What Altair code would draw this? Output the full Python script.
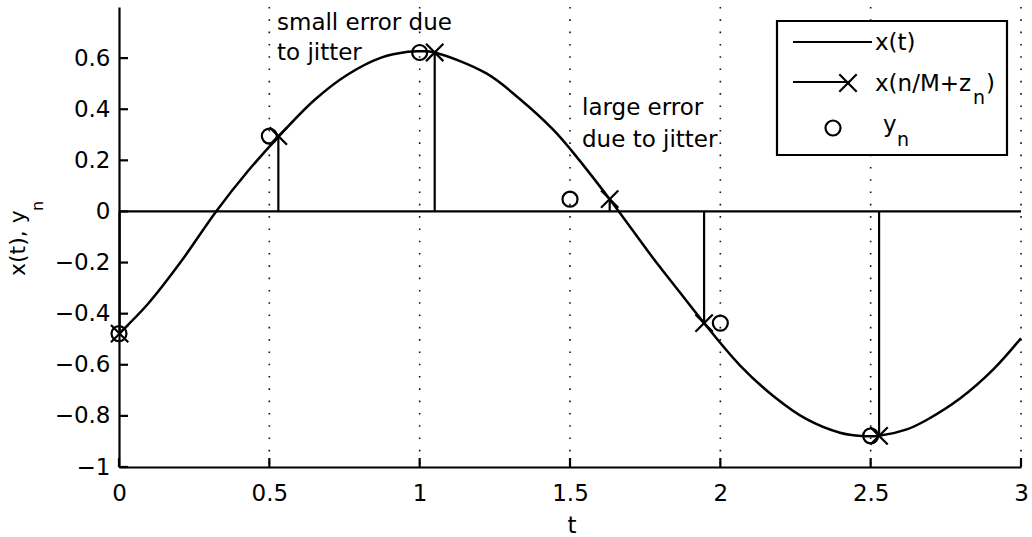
import altair as alt
import pandas as pd

# x(t) traced over 0 <= t <= 3
curve_t = [0.0, 0.096, 0.207, 0.323, 0.429, 0.530, 0.651, 0.761, 0.872, 0.961,
           1.005, 1.050, 1.222, 1.333, 1.444, 1.505, 1.632, 1.776, 1.843,
           1.946, 2.065, 2.176, 2.287, 2.398, 2.470, 2.528, 2.620, 2.686, 2.797,
           2.908, 3.0]
curve_x = [-0.478, -0.362, -0.195, 0.0, 0.158, 0.292, 0.437, 0.536, 0.602, 0.625,
           0.627, 0.622, 0.540, 0.440, 0.320, 0.238, 0.048, -0.182, -0.283,
           -0.437, -0.602, -0.722, -0.813, -0.866, -0.879, -0.878, -0.853, -0.816, -0.732,
           -0.618, -0.496]

# nominal sample instants n/M, jittered instants n/M + z_n, and sampled values
n_t = [0.0, 0.5, 1.0, 1.5, 2.0, 2.5]
jitter_t = [0.002, 0.530, 1.050, 1.632, 1.946, 2.528]
samples = [-0.478, 0.295, 0.622, 0.048, -0.437, -0.878]

x_ticks = [0, 0.5, 1, 1.5, 2, 2.5, 3]
y_ticks = [-1, -0.8, -0.6, -0.4, -0.2, 0, 0.2, 0.4, 0.6]

FONT = "DejaVu Sans"
W, H = 902, 460
LW = 2.2

curve_df = pd.DataFrame({"t": curve_t, "v": curve_x})
samp_df = pd.DataFrame({"n": n_t, "t": jitter_t, "v": samples, "zero": [0.0] * len(n_t)})
grid_df = pd.DataFrame({"t": x_ticks[1:]})
xt_df = pd.DataFrame({"t": x_ticks})
yt_df = pd.DataFrame({"v": y_ticks})
base_df = pd.DataFrame({"t": [x_ticks[0]], "t2": [x_ticks[-1]], "v": [0.0]})

xs = alt.Scale(domain=[0, 3], nice=False, zero=False)
ys = alt.Scale(domain=[-1, 0.8], nice=False, zero=False)
x_axis = alt.Axis(values=x_ticks, format="~g", title=None, grid=False, ticks=False,
                  domainColor="black", domainWidth=LW, labelFont=FONT, labelFontSize=23,
                  labelColor="black", labelPadding=15, labelFlush=False, labelOverlap=False)
y_axis = alt.Axis(values=y_ticks, format="~g", title=None, grid=False, ticks=False,
                  domainColor="black", domainWidth=LW, labelFont=FONT, labelFontSize=23,
                  labelColor="black", labelPadding=9, labelFlush=False, labelOverlap=False)


def X(field):
    return alt.X(field, type="quantitative", scale=xs, axis=x_axis)


def Y(field):
    return alt.Y(field, type="quantitative", scale=ys, axis=y_axis)


# dotted vertical grid at the t ticks
grid = alt.Chart(grid_df).mark_rule(color="#111", strokeWidth=1.6, strokeDash=[1.6, 10.7]).encode(
    x=X("t"), y=alt.value(0), y2=alt.value(H))

# inward tick marks
xtick = alt.Chart(xt_df).mark_rule(color="black", strokeWidth=LW).encode(
    x=X("t"), y=alt.value(H), y2=alt.value(H - 9))
ytick = alt.Chart(yt_df).mark_rule(color="black", strokeWidth=LW).encode(
    y=Y("v"), x=alt.value(0), x2=alt.value(9))

# stem baseline at zero
baseline = alt.Chart(base_df).mark_rule(color="black", strokeWidth=LW).encode(
    x=X("t"), x2="t2", y=Y("v"))

stems = alt.Chart(samp_df).mark_rule(color="black", strokeWidth=LW).encode(
    x=X("t"), y=Y("zero"), y2="v")

curve = alt.Chart(curve_df).mark_line(color="black", strokeWidth=2.5,
                                      interpolate="catmull-rom").encode(x=X("t"), y=Y("v"))

XSHAPE = "M-1,-1L1,1M1,-1L-1,1"
crosses = alt.Chart(samp_df).mark_point(shape=XSHAPE, size=300, filled=False, color="black",
                                        strokeWidth=LW, opacity=1).encode(x=X("t"), y=Y("v"))
circles = alt.Chart(samp_df).mark_point(shape="circle", size=225, filled=False, color="black",
                                        strokeWidth=LW, opacity=1).encode(x=X("n"), y=Y("v"))

one = alt.Data(values=[{"k": 1}])


def label(text, x, y, size=23, align="left", angle=0):
    return alt.Chart(one).mark_text(text=text, font=FONT, fontSize=size, color="black",
                                    align=align, baseline="alphabetic", angle=angle).encode(
        x=alt.value(x), y=alt.value(y))


def seg(x1, x2, y):
    return alt.Chart(one).mark_rule(color="black", strokeWidth=LW).encode(
        x=alt.value(x1), x2=alt.value(x2), y=alt.value(y))


notes = [
    label("small error due", 158, 23),
    label("to jitter", 158, 53),
    label("large error", 463, 108),
    label("due to jitter", 463, 140),
]

legend_box = alt.Chart(one).mark_rect(fill="white", stroke="black", strokeWidth=LW).encode(
    x=alt.value(658), x2=alt.value(888), y=alt.value(14), y2=alt.value(148))
legend = [
    legend_box,
    seg(674, 753, 35),
    label("x(t)", 756, 43),
    seg(674, 731, 75),
    alt.Chart(one).mark_point(shape=XSHAPE, size=300, filled=False, color="black",
                              strokeWidth=LW, opacity=1).encode(x=alt.value(729), y=alt.value(76)),
    label("x(n/M+z", 756, 84),
    label("n", 854, 97, size=19),
    label(")", 867, 84),
    alt.Chart(one).mark_point(shape="circle", size=225, filled=False, color="black",
                              strokeWidth=LW, opacity=1).encode(x=alt.value(714), y=alt.value(121)),
    label("y", 764, 125),
    label("n", 778, 139, size=19),
]

titles = [
    label("t", 453, 526, align="center"),
    label("x(t), y", -94, 269, size=22, angle=270),
    label("n", -76, 204, size=16, angle=270),
]

chart = alt.layer(
    grid, baseline, stems, curve, crosses, circles, xtick, ytick,
    *notes, *legend, *titles
).properties(
    width=W, height=H, autosize=alt.AutoSizeParams(type="none"),
    padding={"left": 119, "top": 7, "right": 11, "bottom": 70},
    background="white",
).configure_view(stroke=None)

chart.save("out.html", embed_options={"renderer": "svg", "actions": False})
